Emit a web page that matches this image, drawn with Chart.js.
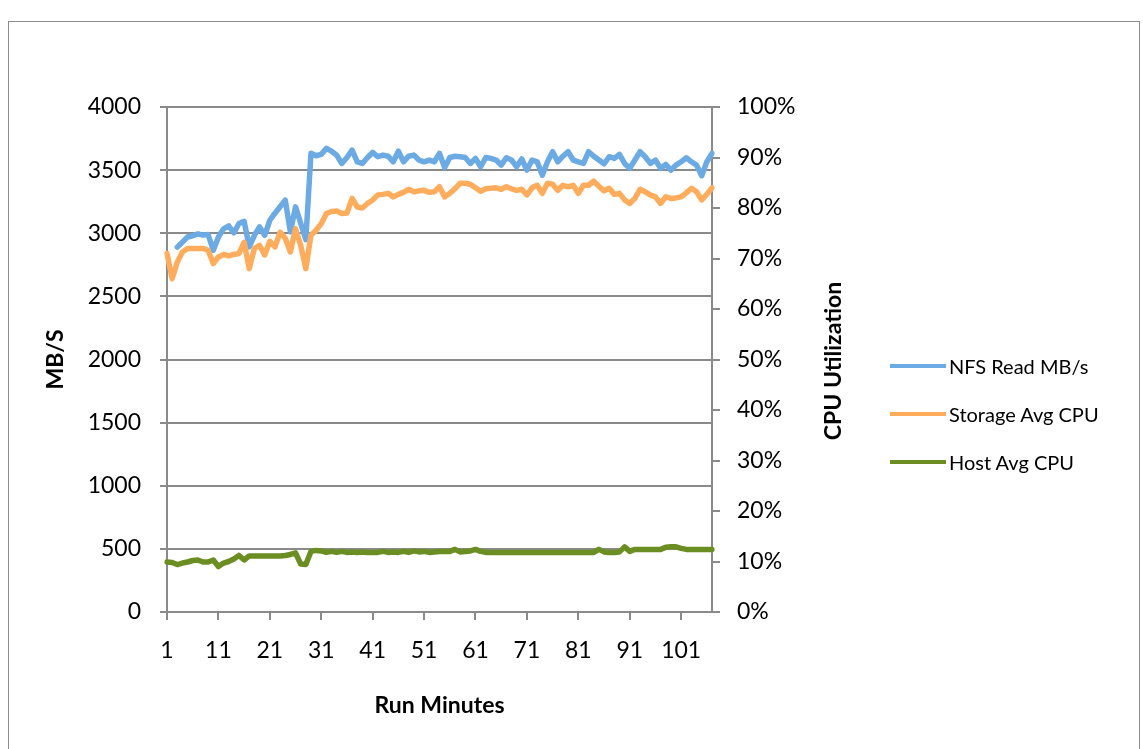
<!DOCTYPE html>
<html>
<head>
<meta charset="utf-8">
<script src="https://cdn.jsdelivr.net/npm/chart.js@4.4.1/dist/chart.umd.min.js"></script>
<style>
  html, body { margin: 0; padding: 0; background: #fff; }
  #wrap { position: relative; width: 1143px; height: 749px; overflow: hidden; font-family: Lato, "Open Sans", sans-serif; }
  #frame { position: absolute; left: 8px; top: 21px; width: 1132px; height: 740px; border: 1px solid #8c8c8c; box-sizing: border-box; pointer-events: none; }
  #cpuTitle { position: absolute; left: 832px; top: 361px; transform: translate(-50%, -50%) rotate(-90deg); font-weight: bold; font-size: 23px; white-space: nowrap; color: #000; }
  .legRow { position: absolute; left: 890px; height: 24px; display: flex; align-items: center; font-size: 20px; color: #000; white-space: nowrap; }
  .legRow span.line { display: inline-block; width: 56px; height: 4px; margin-right: 3px; }
</style>
</head>
<body>
<div id="wrap">
  <canvas id="runChart" width="1143" height="749"></canvas>
  <div id="frame"></div>
  <div id="cpuTitle">CPU Utilization</div>
  <div id="legend"></div>
</div>
<script>
// run minutes 1..107
const minutes = [
  1, 2, 3, 4, 5, 6, 7, 8, 9, 10, 11, 12, 13, 14, 15, 16, 17, 18, 19, 20,
  21, 22, 23, 24, 25, 26, 27, 28, 29, 30, 31, 32, 33, 34, 35, 36, 37, 38, 39, 40,
  41, 42, 43, 44, 45, 46, 47, 48, 49, 50, 51, 52, 53, 54, 55, 56, 57, 58, 59, 60,
  61, 62, 63, 64, 65, 66, 67, 68, 69, 70, 71, 72, 73, 74, 75, 76, 77, 78, 79, 80,
  81, 82, 83, 84, 85, 86, 87, 88, 89, 90, 91, 92, 93, 94, 95, 96, 97, 98, 99, 100,
  101, 102, 103, 104, 105, 106, 107
];

// MB/s, left axis (first two minutes not visible in the picture)
const nfsRead = [
  null, null, 2890, 2930, 2970, 2980, 2995, 2985, 2990, 2865,
  2970, 3035, 3058, 3003, 3077, 3095, 2892, 2984, 3050, 2984,
  3103, 3159, 3210, 3262, 3011, 3209, 3080, 2950, 3633, 3614,
  3625, 3672, 3650, 3619, 3553, 3600, 3659, 3566, 3553, 3600,
  3640, 3606, 3619, 3610, 3566, 3650, 3566, 3610, 3619, 3580,
  3566, 3580, 3566, 3633, 3520, 3600, 3610, 3606, 3600, 3553,
  3593, 3527, 3600, 3593, 3580, 3540, 3598, 3580, 3527, 3588,
  3500, 3580, 3566, 3460, 3566, 3646, 3566, 3610, 3646, 3580,
  3566, 3553, 3646, 3610, 3580, 3550, 3606, 3593, 3625, 3553,
  3514, 3580, 3646, 3606, 3553, 3580, 3514, 3545, 3500, 3540,
  3566, 3598, 3566, 3540, 3456, 3566, 3633
];

// percent, right axis
const storageCpu = [
  71.0, 66.0, 69.3, 71.3, 72.0, 72.0, 72.0, 72.0, 71.6, 69.0,
  70.3, 70.8, 70.5, 70.8, 71.0, 73.2, 68.0, 72.0, 72.6, 70.7,
  73.4, 72.3, 75.2, 74.0, 71.3, 75.9, 72.6, 68.0, 74.6, 75.6,
  76.9, 78.9, 79.3, 79.4, 78.9, 79.0, 81.9, 80.2, 80.0, 80.9,
  81.6, 82.6, 82.7, 82.9, 82.2, 82.7, 83.1, 83.7, 83.2, 83.4,
  83.5, 83.1, 83.2, 84.2, 82.2, 82.9, 83.8, 84.9, 84.9, 84.7,
  84.0, 83.3, 83.8, 83.9, 84.0, 83.7, 84.2, 83.8, 83.5, 83.7,
  82.6, 84.0, 84.5, 82.9, 84.9, 84.7, 83.5, 84.5, 84.2, 84.5,
  82.9, 84.5, 84.5, 85.3, 84.3, 83.4, 83.9, 82.7, 82.9, 81.6,
  80.9, 81.9, 83.7, 83.2, 82.6, 82.2, 80.9, 82.2, 81.9, 82.0,
  82.2, 83.0, 83.9, 83.2, 81.6, 82.7, 84.0
];

const hostCpu = [
  9.9, 9.8, 9.4, 9.7, 9.9, 10.2, 10.3, 9.9, 9.9, 10.3,
  9.0, 9.7, 10.0, 10.5, 11.2, 10.3, 11.1, 11.1, 11.1, 11.1,
  11.1, 11.1, 11.1, 11.2, 11.4, 11.7, 9.5, 9.4, 12.0, 12.2,
  12.1, 11.8, 12.0, 11.8, 12.0, 11.8, 11.9, 11.8, 11.9, 11.8,
  11.8, 11.8, 12.0, 11.8, 11.9, 11.8, 12.0, 11.8, 12.1, 11.9,
  12.0, 11.8, 11.9, 12.0, 12.0, 12.0, 12.4, 11.9, 12.0, 12.1,
  12.4, 12.0, 11.8, 11.8, 11.8, 11.8, 11.8, 11.8, 11.8, 11.8,
  11.8, 11.8, 11.8, 11.8, 11.8, 11.8, 11.8, 11.8, 11.8, 11.8,
  11.8, 11.8, 11.8, 11.8, 12.4, 11.9, 11.8, 11.8, 11.9, 12.9,
  12.0, 12.4, 12.4, 12.4, 12.4, 12.4, 12.4, 12.8, 12.9, 12.9,
  12.6, 12.4, 12.4, 12.4, 12.4, 12.4, 12.4
];

const seriesNames = ["NFS Read MB/s", "Storage Avg CPU", "Host Avg CPU"];
const seriesColors = ["#6caae3", "#ffad5c", "#6b8e23"];

const GRID = "#8a8a8a";
const FONT = { family: "Lato, 'Open Sans', sans-serif", size: 23 };
const BOLD = { family: "Lato, 'Open Sans', sans-serif", size: 23, weight: "bold" };

function lineSet(i, data, axis, order) {
    return {
        label: seriesNames[i],
        data: data,
        yAxisID: axis,
        borderColor: seriesColors[i],
        backgroundColor: seriesColors[i],
        borderWidth: 5.5,
        pointRadius: 0,
        tension: 0,
        borderJoinStyle: "round",
        borderCapStyle: "round",
        order: order,
    };
}

const config = {
    type: "line",
    data: {
        labels: minutes,
        datasets: [
            lineSet(0, nfsRead, "y", 3),
            lineSet(1, storageCpu, "y1", 2),
            lineSet(2, hostCpu, "y1", 1),
        ],
    },
    options: {
        responsive: false,
        animation: false,
        layout: { padding: { top: 107, left: 0, right: 0, bottom: 0 } },
        plugins: {
            legend: { display: false },
            tooltip: { enabled: false },
        },
        scales: {
            x: {
                offset: false,
                afterFit: (s) => { s.height = 137; },
                grid: {
                    drawOnChartArea: false,
                    tickLength: 8,
                    lineWidth: 2,
                    color: (ctx) => (ctx.index % 10 === 0 ? GRID : "rgba(0,0,0,0)"),
                    tickColor: (ctx) => (ctx.index % 10 === 0 ? GRID : "rgba(0,0,0,0)"),
                },
                border: { color: GRID, width: 2 },
                ticks: {
                    autoSkip: false,
                    maxRotation: 0,
                    padding: 17,
                    color: "#000",
                    font: FONT,
                    callback: (v, i) => (i % 10 === 0 ? String(minutes[i]) : ""),
                },
                title: { display: true, text: "Run Minutes", color: "#000", font: BOLD, padding: { top: 0, bottom: 30 } },
            },
            y: {
                position: "left",
                min: 0,
                max: 4000,
                afterFit: (s) => { s.width = 167; },
                grid: { color: GRID, lineWidth: 2, tickLength: 7 },
                border: { color: GRID, width: 2 },
                ticks: { stepSize: 500, padding: 19, color: "#000", font: FONT, callback: (v) => String(v) },
                title: { display: true, text: "MB/S", color: "#000", font: BOLD, padding: { top: 42, bottom: 0 } },
            },
            y1: {
                position: "right",
                min: 0,
                max: 100,
                afterFit: (s) => { s.width = 431; },
                grid: { drawOnChartArea: false, color: GRID, lineWidth: 2, tickLength: 8 },
                border: { color: GRID, width: 2 },
                ticks: { stepSize: 10, padding: 17, color: "#000", font: FONT, callback: (v) => v + "%" },
            },
        },
    },
};

const runChart = new Chart(document.getElementById("runChart"), config);

// legend at the right, like the spreadsheet one
const legendTops = [354, 402, 450];
const legend = document.getElementById("legend");
seriesNames.forEach((name, i) => {
    const row = document.createElement("div");
    row.className = "legRow";
    row.style.top = legendTops[i] + "px";
    row.innerHTML = '<span class="line" style="background:' + seriesColors[i] + '"></span>' + name;
    legend.appendChild(row);
});
</script>
</body>
</html>
